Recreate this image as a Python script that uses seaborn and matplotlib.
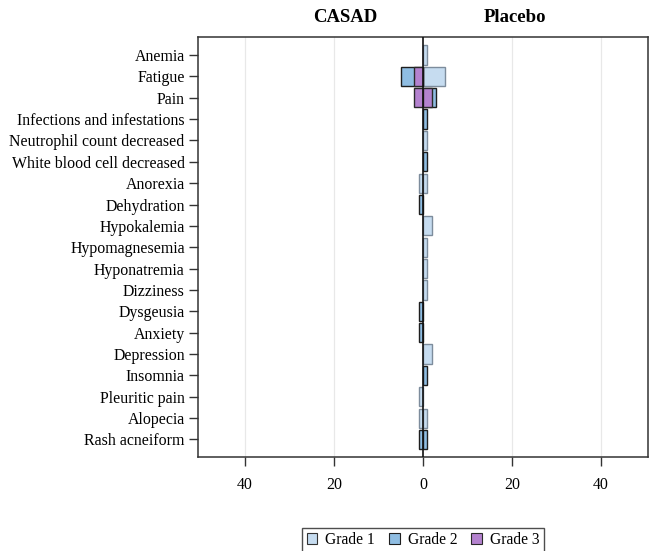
import matplotlib
matplotlib.use("Agg")
import matplotlib.pyplot as plt
from matplotlib.patches import Patch
import seaborn as sns
import pandas as pd

terms = ["Anemia", "Fatigue", "Pain", "Infections and infestations",
         "Neutrophil count decreased", "White blood cell decreased",
         "Anorexia", "Dehydration", "Hypokalemia", "Hypomagnesemia",
         "Hyponatremia", "Dizziness", "Dysgeusia", "Anxiety", "Depression",
         "Insomnia", "Pleuritic pain", "Alopecia", "Rash acneiform"]

casad_g1 = [0, 0, 0, 0, 0, 0, 1, 0, 0, 0, 0, 0, 0, 0, 0, 0, 1, 1, 0]
casad_g2 = [0, 5, 0, 0, 0, 0, 0, 1, 0, 0, 0, 0, 1, 1, 0, 0, 0, 0, 1]
casad_g3 = [0, 2, 2, 0, 0, 0, 0, 0, 0, 0, 0, 0, 0, 0, 0, 0, 0, 0, 0]
placebo_g1 = [1, 5, 0, 0, 1, 0, 1, 0, 2, 1, 1, 1, 0, 0, 2, 0, 0, 1, 0]
placebo_g2 = [0, 0, 3, 1, 0, 1, 0, 0, 0, 0, 0, 0, 0, 0, 0, 1, 0, 0, 1]
placebo_g3 = [0, 0, 2, 0, 0, 0, 0, 0, 0, 0, 0, 0, 0, 0, 0, 0, 0, 0, 0]

grades = ["Grade 1", "Grade 2", "Grade 3"]
arms = ["CASAD", "Placebo"]
tick_vals = [-40, -20, 0, 20, 40]
tick_labels = ["40", "20", "0", "20", "40"]

fills = {"Grade 1": "#c6dcf0", "Grade 2": "#8fbde2", "Grade 3": "#b482cf"}
edges = {"Grade 1": "#7d8c9c", "Grade 2": "#1e1e1e", "Grade 3": "#2a2a2a"}

rows = []
for arm, sign, series in [("CASAD", -1, [casad_g1, casad_g2, casad_g3]),
                          ("Placebo", 1, [placebo_g1, placebo_g2, placebo_g3])]:
    for g, vals in zip(grades, series):
        for t, v in zip(terms, vals):
            rows.append({"term": t, "arm": arm, "grade": g, "value": sign * v})
df = pd.DataFrame(rows)

sns.set_theme(style="white")
plt.rcParams["font.family"] = ["Liberation Serif", "DejaVu Serif"]
plt.rcParams["text.color"] = "black"
plt.rcParams["xtick.labelcolor"] = "black"
plt.rcParams["ytick.labelcolor"] = "black"

fig = plt.figure(figsize=(6.51, 5.51), dpi=100)
ax = fig.add_axes([0.304, 0.1706, 0.6914, 0.7614])

for x in [-40, -20, 20, 40]:
    ax.axvline(x, color="#e8e8e8", lw=0.9, zorder=0)

for g in grades:
    for arm in arms:
        sub = df[(df.grade == g) & (df.arm == arm) & (df.value != 0)]
        sns.barplot(data=sub, x="value", y="term", order=terms, orient="h",
                    color=fills[g], edgecolor=edges[g], linewidth=1.0,
                    width=0.9, saturation=1, errorbar=None, ax=ax, zorder=2)

ax.axvline(0, color="#111111", lw=1.2, zorder=5)

ax.set_xlim(-50.6, 50.6)
ax.set_ylim(len(terms) - 1 + 0.82, -0.82)
ax.set_xticks(tick_vals)
ax.set_xticklabels(tick_labels)
ax.set_xlabel("")
ax.set_ylabel("")
ax.tick_params(axis="both", which="major", labelsize=11.4, direction="out",
               length=6.5, width=1, color="#333333", labelcolor="black",
               pad=3, left=True, bottom=True)
ax.tick_params(axis="x", pad=8)
for s in ax.spines.values():
    s.set_color("#333333")
    s.set_linewidth(1.1)
    s.set_visible(True)

fig.text(345 / 651, 1 - 18 / 551, "CASAD", ha="center", va="center",
         fontsize=13.5, fontweight="bold", color="black")
fig.text(515 / 651, 1 - 18 / 551, "Placebo", ha="center", va="center",
         fontsize=13.5, fontweight="bold", color="black")

handles = [Patch(facecolor=fills[g], edgecolor=edges[g] if g != "Grade 1" else "#333333",
                 linewidth=0.8, label=g) for g in grades]
leg = fig.legend(handles=handles, loc="upper center", ncol=3,
                 bbox_to_anchor=(423 / 651, 1 - 527.5 / 551),
                 frameon=True, fancybox=False, fontsize=11.2,
                 handlelength=0.7, handleheight=0.7, handletextpad=0.5,
                 columnspacing=0.9, borderpad=0.3, borderaxespad=0)
leg.get_frame().set_edgecolor("#222222")
leg.get_frame().set_linewidth(1.0)
for t in leg.get_texts():
    t.set_color("black")

fig.savefig("out.png", dpi=100)
